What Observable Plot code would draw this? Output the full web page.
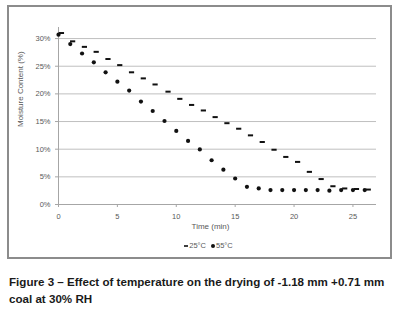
<!DOCTYPE html>
<html>
<head>
<meta charset="utf-8">
<script src="https://cdn.jsdelivr.net/npm/d3@7"></script>
<script src="https://cdn.jsdelivr.net/npm/@observablehq/plot@0.6"></script>
<style>
  html, body { margin: 0; padding: 0; background: #fff; }
  #page { position: relative; width: 399px; height: 318px; overflow: hidden; background: #fff; font-family: "Liberation Sans", Arial, sans-serif; }
  #box { position: absolute; left: 7px; top: 5px; width: 385px; height: 254px; box-sizing: border-box; border: 2px solid #8c8c8c; }
  #chart { position: absolute; left: 0; top: 0; }
  #legend { position: absolute; left: 0; width: 420px; top: 241px; text-align: center; font-size: 7.5px; color: #595959; }
  #legend svg { vertical-align: middle; }
  #caption { position: absolute; left: 9px; top: 273px; width: 395px; font-size: 11.6px; font-weight: bold; color: #1a1a1a; line-height: 17px; }
</style>
</head>
<body>
<div id="page">
  <div id="box"></div>
  <div id="chart"></div>
  <div id="legend"></div>
  <div id="caption">Figure 3 – Effect of temperature on the drying of -1.18 mm +0.71 mm<br>coal at 30% RH</div>
</div>
<script>
// Data
const seriesNames = ["25°C", "55°C"];
const time25 = [0.25, 1.2, 2.2, 3.2, 4.2, 5.2, 6.2, 7.2, 8.2, 9.3, 10.3, 11.3, 12.3, 13.3, 14.3, 15.3, 16.3, 17.3, 18.3, 19.3, 20.3, 21.3, 22.3, 23.3, 24.3, 25.3, 26.3];
const moisture25 = [31.0, 29.5, 28.5, 27.6, 26.3, 25.2, 23.9, 22.8, 21.7, 20.4, 19.1, 18.0, 17.0, 15.8, 14.7, 13.7, 12.5, 11.3, 9.9, 8.6, 7.7, 5.9, 4.6, 3.3, 2.9, 2.8, 2.7];
const time55 = [0, 1, 2, 3, 4, 5, 6, 7, 8, 9, 10, 11, 12, 13, 14, 15, 16, 17, 18, 19, 20, 21, 22, 23, 24, 25, 26];
const moisture55 = [30.7, 29.0, 27.3, 25.7, 23.9, 22.2, 20.6, 18.6, 16.9, 15.1, 13.3, 11.5, 9.95, 8.0, 6.3, 4.7, 3.2, 2.9, 2.6, 2.6, 2.6, 2.6, 2.6, 2.5, 2.6, 2.6, 2.6];
const xTicks = [0, 5, 10, 15, 20, 25];
const yTicks = [0, 5, 10, 15, 20, 25, 30];
const xLabel = "Time (min)";
const yLabel = "Moisture Content (%)";

const d25 = time25.map((t, i) => ({t, m: moisture25[i]}));
const d55 = time55.map((t, i) => ({t, m: moisture55[i]}));

// horizontal dash symbol
const dash = {
  draw(ctx, size) {
    const r = Math.sqrt(size / Math.PI);
    ctx.moveTo(-r, -1); ctx.lineTo(r, -1); ctx.lineTo(r, 1); ctx.lineTo(-r, 1); ctx.closePath();
  }
};

const font = "Liberation Sans, Arial, sans-serif";
const chart = Plot.plot({
  width: 399,
  height: 262,
  marginLeft: 58,
  marginRight: 23,
  marginTop: 27,
  marginBottom: 58,
  style: {fontFamily: font, fontSize: "7.5px", color: "#595959", background: "transparent"},
  x: {domain: [0, 27], ticks: xTicks},
  y: {domain: [0, 32], ticks: yTicks},
  marks: [
    Plot.gridY(yTicks, {stroke: "#bfbfbf", strokeOpacity: 1, strokeWidth: 1}),
    Plot.ruleX([0], {stroke: "#a6a6a6"}),
    Plot.ruleY([0], {stroke: "#a6a6a6"}),
    Plot.axisY(yTicks, {tickSize: 3, tickPadding: 5, stroke: "#a6a6a6", fill: "#595959", tickFormat: d => d + "%", label: null}),
    Plot.axisX(xTicks, {tickSize: 3, tickPadding: 6, stroke: "#a6a6a6", fill: "#595959", label: null}),
    Plot.text([yLabel], {frameAnchor: "left", dx: -38, dy: 11, rotate: -90, fontSize: 8, fill: "#595959"}),
    Plot.text([xLabel], {frameAnchor: "bottom", dx: -7, dy: 24, fontSize: 8, fill: "#595959"}),
    Plot.dot(d25, {x: "t", y: "m", r: 2.6, symbol: dash, fill: "#111", stroke: "none"}),
    Plot.dot(d55, {x: "t", y: "m", r: 2.1, fill: "#111", stroke: "none"})
  ]
});
document.getElementById("chart").appendChild(chart);

// legend
const leg = document.getElementById("legend");
function marker(kind) {
  const ns = "http://www.w3.org/2000/svg";
  const s = document.createElementNS(ns, "svg");
  s.setAttribute("width", 6); s.setAttribute("height", 6);
  if (kind === 0) {
    const r = document.createElementNS(ns, "rect");
    r.setAttribute("x", 1); r.setAttribute("y", 2.2); r.setAttribute("width", 4); r.setAttribute("height", 1.6); r.setAttribute("fill", "#111");
    s.appendChild(r);
  } else {
    const c = document.createElementNS(ns, "circle");
    c.setAttribute("cx", 3); c.setAttribute("cy", 3); c.setAttribute("r", 2); c.setAttribute("fill", "#111");
    s.appendChild(c);
  }
  return s;
}
seriesNames.forEach((n, i) => {
  const span = document.createElement("span");
  span.style.marginRight = "4px";
  span.appendChild(marker(i));
  span.appendChild(document.createTextNode(n));
  leg.appendChild(span);
});
</script>
</body>
</html>
